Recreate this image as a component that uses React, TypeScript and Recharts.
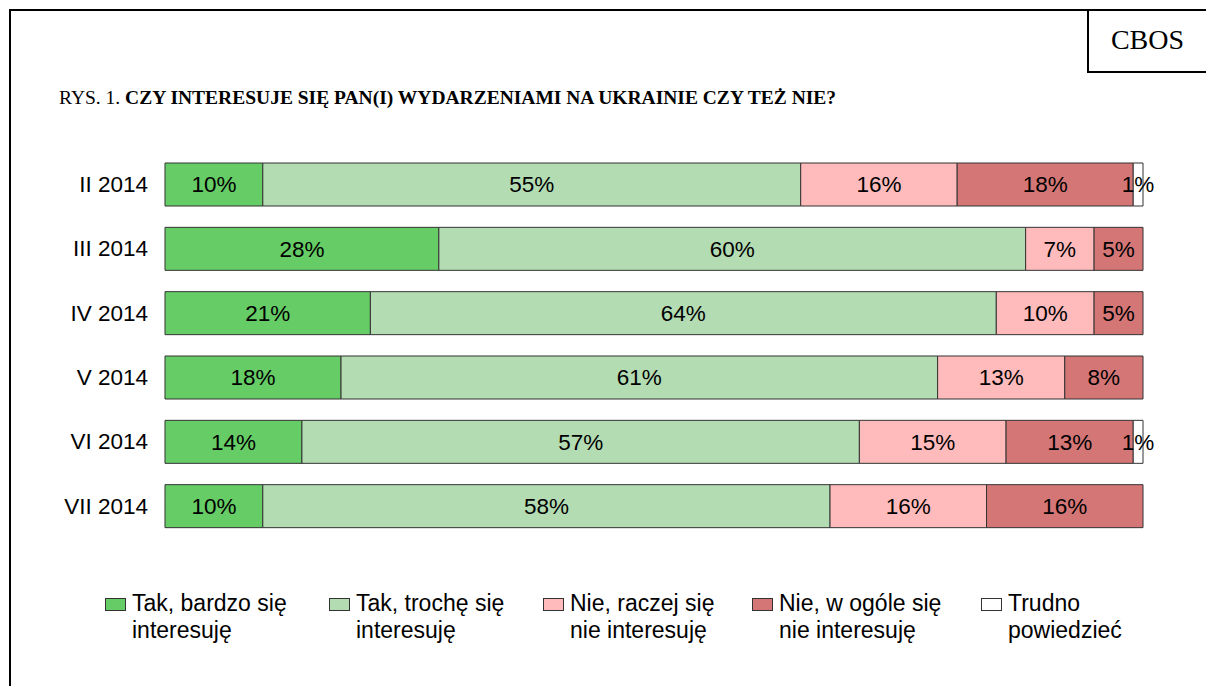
import { BarChart, Bar, XAxis, YAxis, LabelList } from 'recharts';

// survey waves (2014)
const periods = ['II 2014', 'III 2014', 'IV 2014', 'V 2014', 'VI 2014', 'VII 2014'];

// answers in %
const bardzo = [10, 28, 21, 18, 14, 10];
const troche = [55, 60, 64, 61, 57, 58];
const raczejNie = [16, 7, 10, 13, 15, 16];
const wOgoleNie = [18, 5, 5, 8, 13, 16];
const trudno = [1, null, null, null, 1, null];

const series = [
  { key: 'bardzo', values: bardzo, color: '#66CC66', label: ['Tak, bardzo się', 'interesuję'] },
  { key: 'troche', values: troche, color: '#B3DCB3', label: ['Tak, trochę się', 'interesuję'] },
  { key: 'raczejNie', values: raczejNie, color: '#FFBBBB', label: ['Nie, raczej się', 'nie interesuję'] },
  { key: 'wOgoleNie', values: wOgoleNie, color: '#D47676', label: ['Nie, w ogóle się', 'nie interesuję'] },
  { key: 'trudno', values: trudno, color: '#FFFFFF', label: ['Trudno', 'powiedzieć'] },
];

const data = periods.map((period, i) => {
  const row: Record<string, string | number | null> = { period };
  series.forEach((s) => {
    row[s.key] = s.values[i];
  });
  return row;
});

const legendLeft = [105, 329, 543, 752, 981];

const SANS = '"Liberation Sans", Arial, sans-serif';
const SERIF = '"Liberation Serif", "Times New Roman", serif';

export default function App() {
  return (
    <div
      style={{
        position: 'absolute',
        left: 0,
        top: 0,
        width: 1206,
        height: 686,
        background: '#fff',
        overflow: 'hidden',
      }}
    >
      {/* frame */}
      <div style={{ position: 'absolute', left: 9, top: 9, width: 1197, height: 2, background: '#000' }} />
      <div style={{ position: 'absolute', left: 9, top: 9, width: 2, height: 677, background: '#000' }} />
      <div
        style={{
          position: 'absolute',
          left: 1087,
          top: 9,
          width: 119,
          height: 64,
          borderLeft: '2px solid #000',
          borderBottom: '2px solid #000',
          boxSizing: 'border-box',
          fontFamily: SERIF,
          fontSize: 28,
          lineHeight: '62px',
          textAlign: 'center',
          color: '#000',
        }}
      >
        CBOS
      </div>

      <div
        style={{
          position: 'absolute',
          left: 59,
          top: 88,
          fontFamily: SERIF,
          fontSize: 19.5,
          lineHeight: '19px',
          color: '#000',
          whiteSpace: 'nowrap',
        }}
      >
        RYS. 1. <b>CZY INTERESUJE SIĘ PAN(I) WYDARZENIAMI NA UKRAINIE CZY TEŻ NIE?</b>
      </div>

      <div style={{ position: 'absolute', left: 0, top: 0 }}>
        <BarChart
          width={1206}
          height={686}
          data={data}
          layout="vertical"
          barSize={43}
          margin={{ top: 152, right: 63, bottom: 148, left: 0 }}
        >
          <XAxis type="number" domain={[0, 100]} hide />
          <YAxis
            type="category"
            dataKey="period"
            width={165}
            axisLine={false}
            tickLine={false}
            tickMargin={11}
            tick={{ fill: '#000', fontSize: 22.5, fontFamily: SANS }}
          />
          {series.map((s) => (
            <Bar
              key={s.key}
              dataKey={s.key}
              stackId="a"
              fill={s.color}
              stroke="#333"
              strokeWidth={1}
              isAnimationActive={false}
            >
              <LabelList
                dataKey={s.key}
                position="center"
                fill="#000"
                fontSize={22.5}
                fontFamily={SANS}
                formatter={(v: any) => (v == null ? '' : `${v}%`)}
              />
            </Bar>
          ))}
        </BarChart>
      </div>

      {/* legend */}
      {series.map((s, i) => (
        <div
          key={s.key}
          style={{
            position: 'absolute',
            left: legendLeft[i],
            top: 590,
            fontFamily: SANS,
            fontSize: 23,
            lineHeight: '27px',
            color: '#000',
            whiteSpace: 'nowrap',
          }}
        >
          <span
            style={{
              position: 'absolute',
              left: 0,
              top: 8,
              width: 21,
              height: 13,
              background: s.color,
              border: '1px solid #333',
              boxSizing: 'border-box',
            }}
          />
          <div style={{ paddingLeft: 27 }}>
            {s.label[0]}
            <br />
            {s.label[1]}
          </div>
        </div>
      ))}
    </div>
  );
}
